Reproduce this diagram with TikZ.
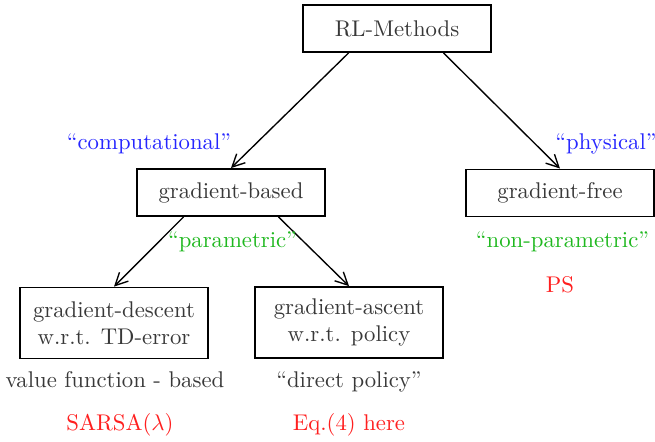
\documentclass[tikz,border=0pt]{standalone}
\usetikzlibrary{arrows.meta,calc}
\definecolor{txtgray}{gray}{0.22}
\definecolor{lblue}{rgb}{0.15,0.15,1}
\definecolor{lgreen}{rgb}{0.12,0.72,0.12}
\definecolor{lred}{rgb}{1,0.12,0.12}
\begin{document}
\begin{tikzpicture}[x=0.44pt,y=-0.44pt,
  methodbox/.style={draw=black,line width=0.8pt,text=txtgray,inner sep=0pt,
    minimum width=82.7pt,minimum height=20.7pt,align=center},
  twoline/.style={methodbox,minimum height=31.2pt},
  branch/.style={-{Straight Barb[length=5.5pt,width=5.5pt]},line width=0.6pt},
  lbl/.style={anchor=base,inner sep=0pt}]
\useasboundingbox (0,0) rectangle (655,442);

% boxes
\node[methodbox] (rl) at (397,28.5) {RL-Methods};
\node[methodbox] (gb) at (231,192.5) {gradient-based};
\node[methodbox] (gf) at (560,193) {gradient-free};
\node[twoline] (gd) at (114,323) {gradient-descent\\w.r.t. TD-error};
\node[twoline] (ga) at (349,322.5) {gradient-ascent\\w.r.t. policy};

% branches
\draw[branch] ($(rl.south west)!0.245!(rl.south east)$) -- (gb.north);
\draw[branch] ($(rl.south west)!0.745!(rl.south east)$) -- (gf.north);
\draw[branch] ($(gb.south west)!0.25!(gb.south east)$) -- (gd.north);
\draw[branch] ($(gb.south west)!0.75!(gb.south east)$) -- (ga.north);

% labels
\node[lbl,text=lblue] (comp) at (149,150) {``computational''};
\node[lbl,text=lblue] (phys) at (606,150) {``physical''};
\node[lbl,text=lgreen] (par) at (232.5,248) {``parametric''};
\node[lbl,text=lgreen] (npar) at (562.5,248) {``non-parametric''};
\node[lbl,text=lred] (ps) at (560,293) {PS};
\node[lbl,text=txtgray] (vf) at (115,387) {value function - based};
\node[lbl,text=txtgray] (dp) at (349,387) {``direct policy''};
\node[lbl,text=lred] (sarsa) at (120,430) {SARSA($\lambda$)};
\node[lbl,text=lred] (eq) at (349,430) {Eq.(4) here};
\end{tikzpicture}
\end{document}
